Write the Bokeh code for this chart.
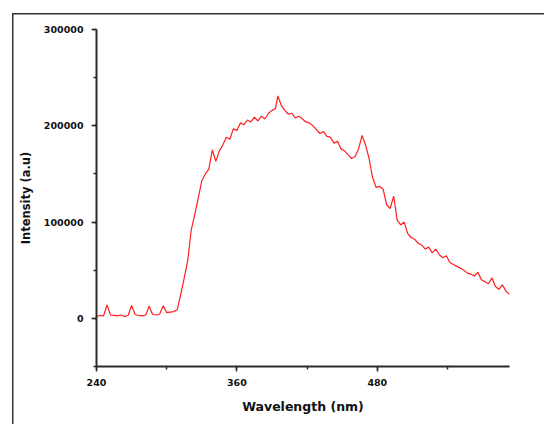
from bokeh.plotting import figure
from bokeh.models import Range1d, SingleIntervalTicker, NumeralTickFormatter
from bokeh.embed import file_html
from bokeh.resources import INLINE

wavelength = [240, 243, 246, 249, 252, 255, 258, 261, 264, 267, 270, 273, 276, 279, 282, 285,
              288, 291, 294, 297, 300, 303, 306, 309, 312, 315, 318, 321, 324, 327, 330, 333,
              336, 339, 342, 345, 348, 351, 354, 357, 360, 363, 366, 369, 372, 375, 378, 381,
              384, 387, 390, 393, 395, 398, 401, 404, 407, 410, 413, 416, 419, 422, 425, 428,
              431, 434, 437, 440, 443, 446, 449, 452, 455, 458, 461, 464, 467, 470, 473, 476,
              479, 482, 485, 488, 491, 494, 497, 500, 503, 506, 509, 512, 515, 518, 521, 524,
              527, 530, 533, 536, 539, 542, 545, 548, 551, 554, 557, 560, 563, 566, 569, 572,
              575, 578, 581, 584, 587, 590, 593]
intensity = [2000, 3000, 2500, 14000, 3500, 3000, 2500, 3500, 2000, 3000, 13500, 4000, 3000, 2500, 3500, 12500,
             4000, 3500, 4500, 13000, 6000, 6500, 7000, 9000, 25000, 42000, 60000, 92000, 108000, 125000, 143000, 150000,
             155000, 175000, 163000, 174000, 180000, 188000, 186000, 197000, 195000, 203000, 201000, 206000, 204000, 209000, 205000, 210000,
             207000, 213000, 216000, 218000, 231000, 221000, 216000, 212000, 213000, 208000, 210000, 207000, 204000, 203000, 200000, 196000,
             192000, 194000, 189000, 188000, 182000, 184000, 176000, 174000, 170000, 166000, 168000, 176000, 190000, 180000, 166000, 146000,
             136000, 137000, 134000, 118000, 114000, 127000, 102000, 97000, 100000, 88000, 84000, 82000, 78000, 76000, 72000, 74000,
             68000, 72000, 66000, 63000, 65000, 58000, 56000, 54000, 52000, 50000, 47000, 46000, 44000, 48000, 40000, 38000,
             36000, 42000, 33000, 30000, 35000, 28000, 25000]

p = figure(width=544, height=424, output_backend="svg", toolbar_location=None,
           x_range=Range1d(240, 593), y_range=Range1d(-50000, 300000),
           min_border_left=96, min_border_top=29, min_border_right=35, min_border_bottom=58)

p.line(wavelength, intensity, line_color="#ff1f1f", line_width=1.2)

p.outline_line_color = None
p.grid.grid_line_color = None
p.background_fill_color = "white"
p.border_fill_color = None
p.styles = {
    "background": "linear-gradient(#333333, #333333) 12px 13px / 1.5px 100% no-repeat, "
                  "linear-gradient(#333333, #333333) 12px 13px / 100% 1.5px no-repeat, white",
}

p.xaxis.ticker = SingleIntervalTicker(interval=120, num_minor_ticks=2)
p.yaxis.ticker = SingleIntervalTicker(interval=100000, num_minor_ticks=2)
p.yaxis.formatter = NumeralTickFormatter(format="0")

for ax in (p.xaxis, p.yaxis):
    ax.axis_line_color = "#2a2a2a"
    ax.axis_line_width = 2
    ax.major_tick_line_color = "#2a2a2a"
    ax.major_tick_line_width = 1.5
    ax.minor_tick_line_color = "#2a2a2a"
    ax.minor_tick_line_width = 1.5
    ax.major_tick_out = 5
    ax.major_tick_in = 0
    ax.minor_tick_out = 3
    ax.minor_tick_in = 0
    ax.major_label_text_font = "DejaVu Sans"
    ax.major_label_text_font_style = "bold"
    ax.major_label_text_font_size = "9.5px"
    ax.major_label_text_color = "#111111"
    ax.axis_label_text_font = "DejaVu Sans"
    ax.axis_label_text_font_style = "bold"
    ax.axis_label_text_color = "#111111"

p.xaxis.axis_label = "Wavelength (nm)"
p.yaxis.axis_label = "Intensity (a.u)"
p.xaxis.axis_label_text_font_size = "12.5px"
p.yaxis.axis_label_text_font_size = "11.5px"
p.xaxis.major_label_standoff = 7
p.yaxis.major_label_standoff = 8
p.xaxis.axis_label_standoff = 10
p.yaxis.axis_label_standoff = 8

open("out.html", "w").write(file_html(p, INLINE))
